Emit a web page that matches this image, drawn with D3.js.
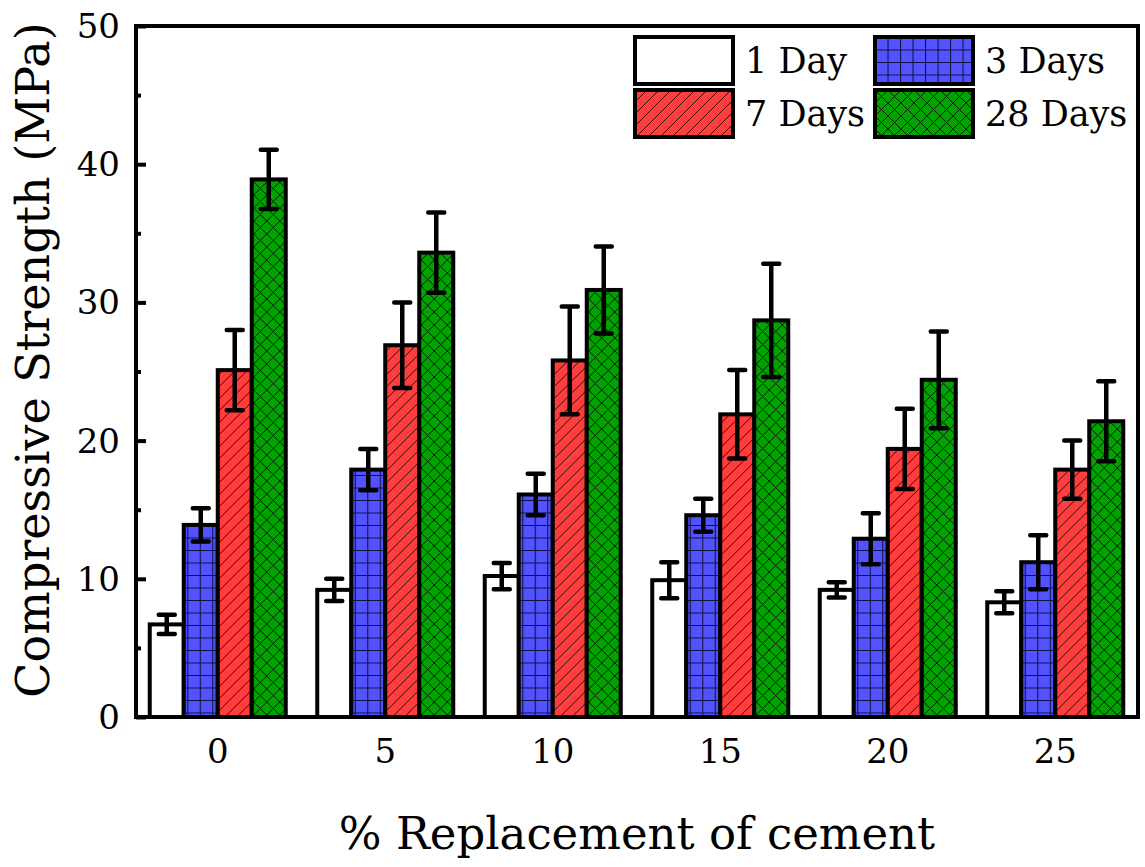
<!DOCTYPE html>
<html>
<head>
<meta charset="utf-8">
<script src="https://cdn.jsdelivr.net/npm/d3@7"></script>
<style>
  html, body { margin: 0; padding: 0; background: #fff; }
  svg { display: block; }
  text { font-family: "DejaVu Serif", "Liberation Serif", serif; fill: #000; }
</style>
</head>
<body>
<svg id="chart" width="1145" height="867"></svg>
<script>
// Replacement levels (% of cement) on the x axis
const categories = ["0", "5", "10", "15", "20", "25"];
const seriesNames = ["1 Day", "3 Days", "7 Days", "28 Days"];

// Mean compressive strength (MPa) per curing age
const day1  = [6.7, 9.2, 10.2, 9.9, 9.2, 8.3];
const day3  = [13.9, 17.9, 16.1, 14.6, 12.9, 11.2];
const day7  = [25.1, 26.9, 25.8, 21.9, 19.4, 17.9];
const day28 = [38.9, 33.6, 30.9, 28.7, 24.4, 21.4];

// Standard deviations (error bar half-lengths, MPa)
const err1  = [0.7, 0.8, 0.95, 1.3, 0.55, 0.8];
const err3  = [1.2, 1.5, 1.5, 1.2, 1.85, 1.95];
const err7  = [2.9, 3.1, 3.9, 3.2, 2.9, 2.1];
const err28 = [2.15, 2.9, 3.15, 4.1, 3.5, 2.9];

const yTicks = [0, 10, 20, 30, 40, 50];
const yMinorTicks = [5, 15, 25, 35, 45];

const values = [day1, day3, day7, day28];
const errors = [err1, err3, err7, err28];

const svg = d3.select("#chart");
const margin = { left: 136, right: 5, top: 26, bottom: 150 };
const W = 1145, H = 867;
const plotL = margin.left, plotR = W - margin.right;
const plotT = margin.top, plotB = 717;

// Hatch patterns for each series
const defs = svg.append("defs");
const fills = ["#ffffff", "#5252ff", "#ff3d3d", "#00a300"];

const pGrid = defs.append("pattern").attr("id", "p-grid")
  .attr("patternUnits", "userSpaceOnUse").attr("width", 12.5).attr("height", 12.5);
pGrid.append("rect").attr("width", 12.5).attr("height", 12.5).attr("fill", fills[1]);
pGrid.append("path").attr("d", "M0,0.5H12.5M0.5,0V12.5")
  .attr("stroke", "#101040").attr("stroke-width", 1.1).attr("fill", "none");

const pDiag = defs.append("pattern").attr("id", "p-diag")
  .attr("patternUnits", "userSpaceOnUse").attr("width", 12).attr("height", 12);
pDiag.append("rect").attr("width", 12).attr("height", 12).attr("fill", fills[2]);
pDiag.append("path").attr("d", "M-3,15L15,-3M-3,3L3,-3M9,15L15,9")
  .attr("stroke", "#2a0000").attr("stroke-width", 0.9).attr("fill", "none");

const pCross = defs.append("pattern").attr("id", "p-cross")
  .attr("patternUnits", "userSpaceOnUse").attr("width", 13).attr("height", 13);
pCross.append("rect").attr("width", 13).attr("height", 13).attr("fill", fills[3]);
pCross.append("path").attr("d", "M-1,-1L14,14M-1,14L14,-1")
  .attr("stroke", "#002000").attr("stroke-width", 1).attr("fill", "none");

const seriesFill = ["#ffffff", "url(#p-grid)", "url(#p-diag)", "url(#p-cross)"];

// Scales
const x0 = d3.scaleBand().domain(categories).range([plotL - 2, plotR - 1]).padding(0);
const x1 = d3.scaleBand().domain(seriesNames).range([0, 136]).padding(0);
const y = d3.scaleLinear().domain([0, 50]).range([plotB, plotT]);

const groupOffset = (x0.bandwidth() - 136) / 2;

// Bars
const groups = svg.append("g").selectAll("g").data(categories).join("g")
  .attr("transform", d => `translate(${x0(d) + groupOffset},0)`);

seriesNames.forEach((s, si) => {
  groups.append("rect")
    .attr("x", x1(s))
    .attr("width", x1.bandwidth())
    .attr("y", (d, i) => y(values[si][i]))
    .attr("height", (d, i) => y(0) - y(values[si][i]))
    .attr("fill", seriesFill[si])
    .attr("stroke", "#000").attr("stroke-width", 4);
});

// Error bars
seriesNames.forEach((s, si) => {
  const cx = x1(s) + x1.bandwidth() / 2;
  groups.append("path")
    .attr("d", (d, i) => {
      const top = y(values[si][i] + errors[si][i]);
      const bot = y(values[si][i] - errors[si][i]);
      return `M${cx},${top}V${bot}M${cx - 8},${top}H${cx + 8}M${cx - 8},${bot}H${cx + 8}`;
    })
    .attr("stroke", "#000").attr("stroke-width", 4.5).attr("fill", "none")
    .attr("stroke-linecap", "round");
});

// Frame
svg.append("rect")
  .attr("x", plotL).attr("y", plotT)
  .attr("width", plotR - plotL - 2).attr("height", plotB - plotT)
  .attr("fill", "none").attr("stroke", "#000").attr("stroke-width", 4);

// Y axis: inward major and minor ticks
const yAxis = d3.axisRight(y).tickValues(yTicks).tickSize(10).tickFormat("");
const gy = svg.append("g").attr("transform", `translate(${plotL},0)`).call(yAxis);
gy.select(".domain").remove();
gy.selectAll(".tick line").attr("stroke", "#000").attr("stroke-width", 4);
const gyMinor = svg.append("g").attr("transform", `translate(${plotL},0)`)
  .call(d3.axisRight(y).tickValues(yMinorTicks).tickSize(5).tickFormat(""));
gyMinor.select(".domain").remove();
gyMinor.selectAll(".tick line").attr("stroke", "#000").attr("stroke-width", 4);

// Y tick labels
svg.append("g").selectAll("text").data(yTicks).join("text")
  .attr("x", plotL - 16).attr("y", d => y(d))
  .attr("dy", "0.35em").attr("text-anchor", "end")
  .attr("font-size", 34).text(d => d);

// X tick labels
const xAxis = d3.axisBottom(x0).tickSize(0).tickPadding(22);
const gx = svg.append("g").attr("transform", `translate(0,${plotB})`).call(xAxis);
gx.select(".domain").remove();
gx.selectAll("text").attr("font-size", 34)
  .attr("font-family", "DejaVu Serif, Liberation Serif, serif").attr("fill", "#000");

// Axis titles
svg.append("text")
  .attr("x", 637).attr("y", 849)
  .attr("text-anchor", "middle").attr("font-size", 45)
  .text("% Replacement of cement");

svg.append("text")
  .attr("transform", `translate(49,${360}) rotate(-90)`)
  .attr("text-anchor", "middle").attr("font-size", 46)
  .text("Compressive Strength (MPa)");

// Legend (two columns)
const legendItems = [
  { name: seriesNames[0], fill: seriesFill[0], x: 635, y: 37 },
  { name: seriesNames[1], fill: seriesFill[1], x: 875, y: 37 },
  { name: seriesNames[2], fill: seriesFill[2], x: 635, y: 90 },
  { name: seriesNames[3], fill: seriesFill[3], x: 875, y: 90 }
];
const lg = svg.append("g").selectAll("g").data(legendItems).join("g")
  .attr("transform", d => `translate(${d.x},${d.y})`);
lg.append("rect").attr("width", 98).attr("height", 47)
  .attr("fill", d => d.fill).attr("stroke", "#000").attr("stroke-width", 4);
lg.append("text").attr("x", 110).attr("y", 24).attr("dy", "0.35em")
  .attr("font-size", 35).text(d => d.name);
</script>
</body>
</html>
